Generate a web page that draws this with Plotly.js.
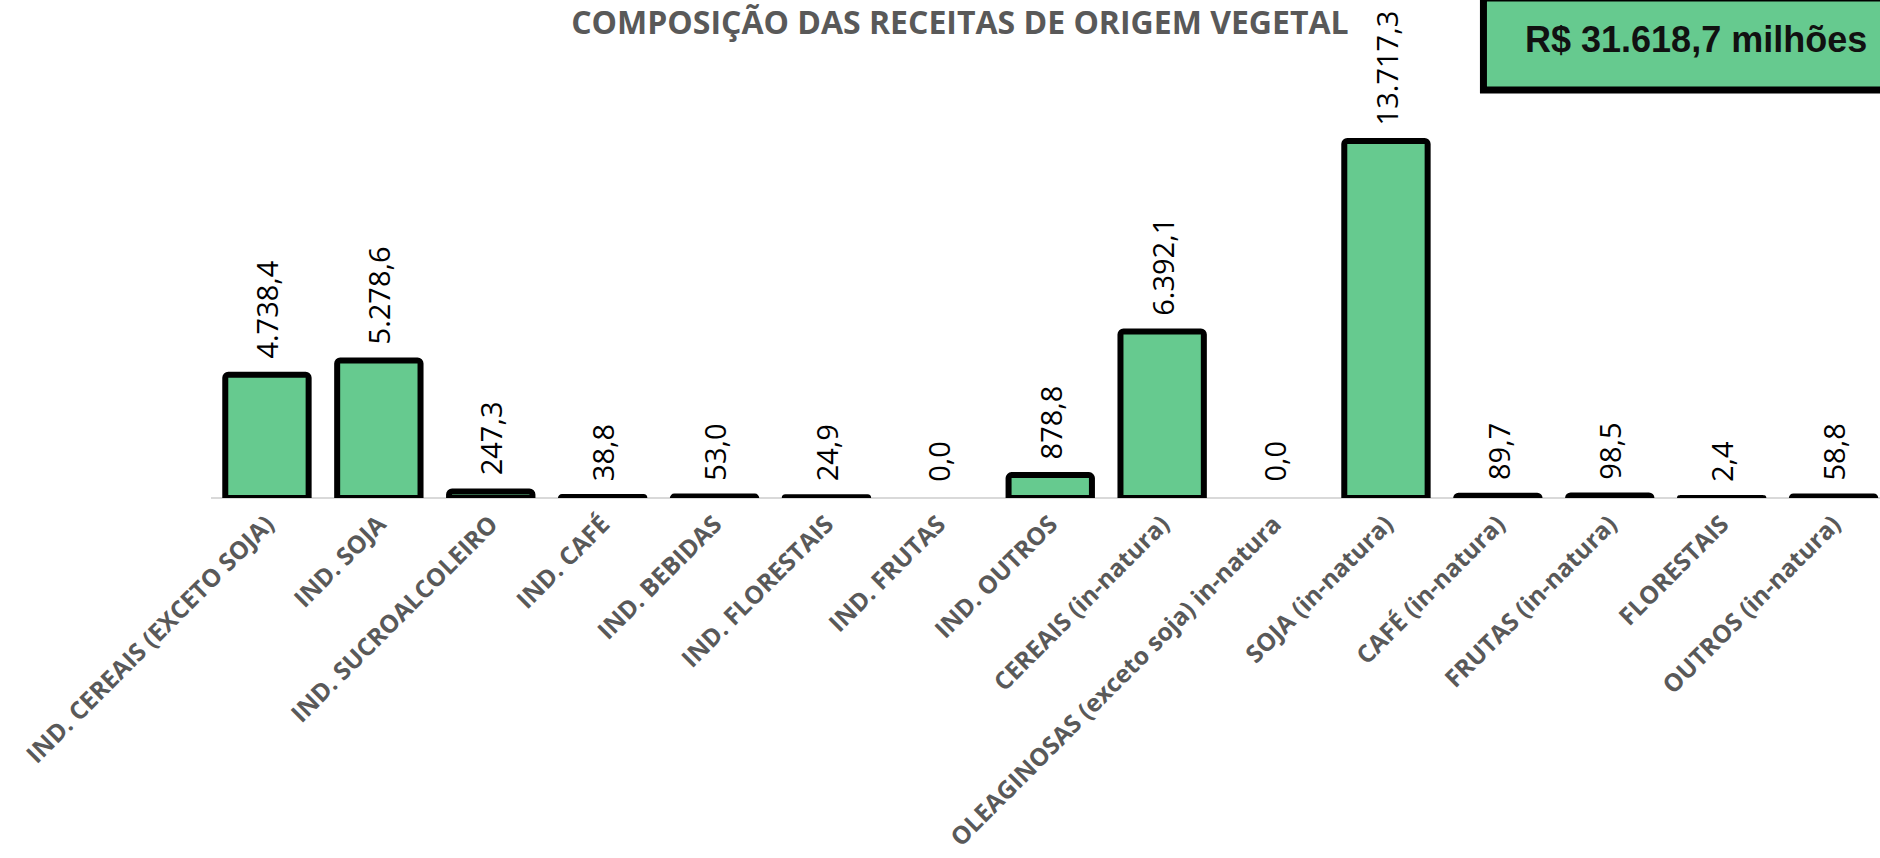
<!DOCTYPE html>
<html>
<head>
<meta charset="utf-8">
<script src="https://cdn.plot.ly/plotly-3.0.1.min.js"></script>
<style>
  html, body { margin: 0; padding: 0; background: #ffffff; }
  #chart { width: 1880px; height: 858px; }
</style>
</head>
<body>
<div id="chart"></div>
<script>
// ---- data ----
const categories = [
  "IND. CEREAIS (EXCETO SOJA)",
  "IND. SOJA",
  "IND. SUCROALCOLEIRO",
  "IND. CAFÉ",
  "IND. BEBIDAS",
  "IND. FLORESTAIS",
  "IND. FRUTAS",
  "IND. OUTROS",
  "CEREAIS (in-natura)",
  "OLEAGINOSAS (exceto soja) in-natura",
  "SOJA (in-natura)",
  "CAFÉ (in-natura)",
  "FRUTAS (in-natura)",
  "FLORESTAIS",
  "OUTROS (in-natura)"
];
const values = [4738.4, 5278.6, 247.3, 38.8, 53.0, 24.9, 0.0, 878.8, 6392.1, 0.0, 13717.3, 89.7, 98.5, 2.4, 58.8];
const chartTitle = "COMPOSIÇÃO DAS RECEITAS DE ORIGEM VEGETAL";
const totalLabel = "R$ 31.618,7 milhões";

// ---- styling ----
const GREEN = "#66CA8F";
const idx = categories.map((c, i) => i);

function fmtBR(v) {
  return v.toLocaleString("pt-BR", { minimumFractionDigits: 1, maximumFractionDigits: 1 });
}

const trace = {
  type: "bar",
  x: idx,
  y: values,
  width: 0.745,
  marker: {
    color: GREEN,
    line: { color: "#000000", width: values.map(v => v > 0 ? 6 : 0) },
    cornerradius: 3
  },
  hoverinfo: "skip"
};

const valueAnnotations = values.map((v, i) => ({
  x: i, y: v, xref: "x", yref: "y",
  text: fmtBR(v),
  textangle: -90,
  showarrow: false,
  xanchor: "center", yanchor: "bottom",
  yshift: 14,
  font: { family: "Open Sans", size: 29, color: "#000000" }
}));

const layout = {
  width: 1880,
  height: 858,
  separators: ",.",
  margin: { l: 211, r: 0, t: 80, b: 360 },
  paper_bgcolor: "#ffffff",
  plot_bgcolor: "#ffffff",
  showlegend: false,
  title: {
    text: chartTitle,
    font: { family: "Open Sans", size: 32, color: "#595959", weight: "bold" },
    x: 0.5106, xref: "container", xanchor: "center",
    y: 0.973, yref: "container", yanchor: "middle"
  },
  xaxis: {
    type: "linear",
    range: [-0.5, 14.415],
    tickmode: "array",
    tickvals: idx,
    ticktext: categories,
    tickangle: -45,
    ticklabelstandoff: 6,
    tickfont: { family: "Open Sans", size: 24.5, color: "#595959", weight: "bold" },
    showgrid: false,
    zeroline: false,
    showline: false,
    ticks: ""
  },
  yaxis: {
    range: [0, 16058],
    showgrid: false,
    showticklabels: false,
    zeroline: true,
    zerolinecolor: "#D9D9D9",
    zerolinewidth: 2,
    ticks: ""
  },
  shapes: [{
    type: "rect", xref: "paper", yref: "paper",
    x0: 0.7624, x1: 1.1, y0: 0.976, y1: 1.196,
    fillcolor: GREEN,
    line: { color: "#000000", width: 7 }
  }],
  annotations: valueAnnotations.concat([{
    xref: "paper", yref: "paper",
    x: 0.8898, y: 1.0957, xanchor: "center", yanchor: "middle",
    showarrow: false,
    text: "<b>" + totalLabel + "</b>",
    font: { family: "Liberation Sans", size: 36, color: "#111111" }
  }])
};

Plotly.newPlot("chart", [trace], layout, { displayModeBar: false, staticPlot: true });
</script>
</body>
</html>
